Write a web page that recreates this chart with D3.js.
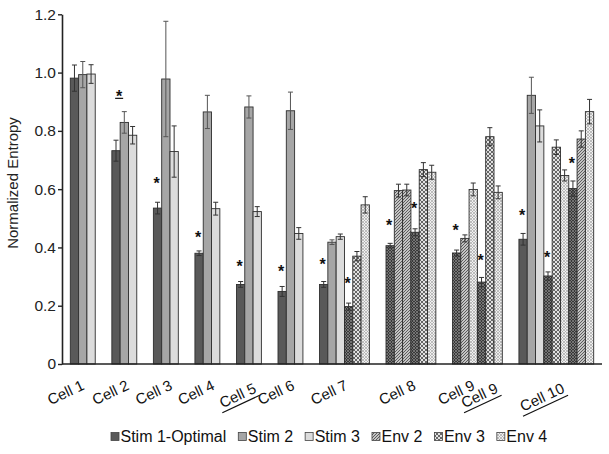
<!DOCTYPE html>
<html>
<head>
<meta charset="utf-8">
<script src="https://cdn.jsdelivr.net/npm/d3@7"></script>
<style>
  body { margin: 0; background: #fff; }
  svg { display: block; font-family: "Liberation Sans", Arial, sans-serif; }
</style>
</head>
<body>
<svg id="chart" width="609" height="454"></svg>
<script>
// legend series (Env 1 = optimal-environment bars, not in the legend)
const legendSeries = ["Stim 1-Optimal", "Stim 2", "Stim 3", "Env 2", "Env 3", "Env 4"];

// first slot of every cluster along the x axis
const groupSlots = [0, 5, 10, 15, 20, 25, 30, 38, 46, 54];

const groupSeries = [
  ["Stim 1-Optimal", "Stim 2", "Stim 3"],
  ["Stim 1-Optimal", "Stim 2", "Stim 3"],
  ["Stim 1-Optimal", "Stim 2", "Stim 3"],
  ["Stim 1-Optimal", "Stim 2", "Stim 3"],
  ["Stim 1-Optimal", "Stim 2", "Stim 3"],
  ["Stim 1-Optimal", "Stim 2", "Stim 3"],
  ["Stim 1-Optimal", "Stim 2", "Stim 3", "Env 1", "Env 3", "Env 4"],
  ["Env 1", "Env 2", "Env 2", "Env 1", "Env 3", "Env 4"],
  ["Env 1", "Env 2", "Env 4", "Env 1", "Env 3", "Env 4"],
  ["Stim 1-Optimal", "Stim 2", "Stim 3", "Env 1", "Env 3", "Env 4", "Env 1", "Env 2", "Env 4"]
];

const groupValues = [
  [0.981, 0.993, 0.995],
  [0.732, 0.829, 0.785],
  [0.535, 0.978, 0.729],
  [0.380, 0.865, 0.533],
  [0.273, 0.882, 0.523],
  [0.249, 0.869, 0.448],
  [0.273, 0.418, 0.437, 0.197, 0.370, 0.546],
  [0.406, 0.595, 0.597, 0.452, 0.667, 0.658],
  [0.381, 0.431, 0.599, 0.281, 0.780, 0.589],
  [0.428, 0.922, 0.817, 0.302, 0.744, 0.647, 0.602, 0.772, 0.866]
];

const groupErrors = [
  [0.045, 0.045, 0.032],
  [0.036, 0.037, 0.030],
  [0.020, 0.198, 0.088],
  [0.008, 0.057, 0.022],
  [0.010, 0.038, 0.017],
  [0.017, 0.064, 0.020],
  [0.010, 0.008, 0.009, 0.012, 0.016, 0.028],
  [0.008, 0.022, 0.020, 0.012, 0.024, 0.024],
  [0.010, 0.012, 0.022, 0.016, 0.031, 0.022],
  [0.020, 0.062, 0.055, 0.014, 0.025, 0.019, 0.026, 0.028, 0.042]
];

// significance marks: [group, bar, value, underlined]
const starMarks = [
  [1, 0.5, 0.927, true], [2, 0, 0.628], [3, 0, 0.446], [4, 0, 0.345], [5, 0, 0.328],
  [6, 0, 0.351], [6, 3, 0.286], [7, 0, 0.486], [7, 3, 0.545],
  [8, 0, 0.468], [8, 3, 0.366], [9, 0, 0.519], [9, 3, 0.377], [9, 6, 0.700]
];

const tickLabels = ["Cell 1", "Cell 2", "Cell 3", "Cell 4", "Cell 5", "Cell 6",
  "Cell 7", "Cell 8", "Cell 9", "Cell 9", "Cell 10"];
const tickSlots = [1.8, 7.2, 12.4, 17.5, 22.5, 27.1, 33.5, 41.7, 48.8, 51.6, 59.6];
const tickUnderlined = [false, false, false, false, true, false, false, false, false, true, true];

const yTicks = [0, 0.2, 0.4, 0.6, 0.8, 1.0, 1.2];

const svg = d3.select("#chart");

const x = d3.scaleLinear().domain([-1, 64]).range([62, 602]);
const y = d3.scaleLinear().domain([0, 1.2]).range([364, 14.3]);
const bw = x(1) - x(0);

// fills and patterns
const defs = svg.append("defs");
function pattern(id, size, bg, draw) {
  const p = defs.append("pattern")
    .attr("id", id)
    .attr("patternUnits", "userSpaceOnUse")
    .attr("width", size)
    .attr("height", size);
  p.append("rect").attr("width", size).attr("height", size).attr("fill", bg);
  draw(p);
}
pattern("env1", 3, "#383838", (p) => {
  p.append("path").attr("d", "M0,0L3,3M3,0L0,3").attr("stroke", "#8a8a8a").attr("stroke-width", 0.7);
});
pattern("env2", 3, "#c4c4c4", (p) => {
  p.append("path").attr("d", "M-1,1L1,-1M0,3L3,0M2,4L4,2").attr("stroke", "#505050").attr("stroke-width", 0.9);
});
pattern("env3", 4, "#e2e2e2", (p) => {
  p.append("path").attr("d", "M0,0L4,4M4,0L0,4").attr("stroke", "#666").attr("stroke-width", 1);
});
pattern("env4", 3, "#efefef", (p) => {
  p.append("path").attr("d", "M0,0L3,3M3,0L0,3").attr("stroke", "#a8a8a8").attr("stroke-width", 0.7);
});

const fills = {
  "Stim 1-Optimal": "#595959",
  "Stim 2": "#a6a6a6",
  "Stim 3": "#dcdcdc",
  "Env 1": "url(#env1)",
  "Env 2": "url(#env2)",
  "Env 3": "url(#env3)",
  "Env 4": "url(#env4)"
};

// flatten the bars
const bars = [];
groupSlots.forEach((start, g) => {
  groupSeries[g].forEach((s, i) => {
    bars.push({ slot: start + i, series: s, value: groupValues[g][i], err: groupErrors[g][i] });
  });
});

const gBars = svg.append("g");
gBars.selectAll("rect")
  .data(bars)
  .join("rect")
  .attr("x", (d) => x(d.slot))
  .attr("y", (d) => y(d.value))
  .attr("width", bw)
  .attr("height", (d) => y(0) - y(d.value))
  .attr("fill", (d) => fills[d.series])
  .attr("stroke", "#2e2e2e")
  .attr("stroke-width", 0.9);

// error bars
const gErr = svg.append("g").attr("stroke-width", 1);
bars.forEach((d) => {
  const cx = x(d.slot + 0.5);
  const col = d.series === "Stim 2" ? "#555" : "#333";
  const y1 = y(d.value + d.err), y2 = y(d.value - d.err);
  gErr.append("line").attr("stroke", col).attr("x1", cx).attr("x2", cx).attr("y1", y1).attr("y2", y2);
  gErr.append("line").attr("stroke", col).attr("x1", cx - 2.5).attr("x2", cx + 2.5).attr("y1", y1).attr("y2", y1);
  gErr.append("line").attr("stroke", col).attr("x1", cx - 2.5).attr("x2", cx + 2.5).attr("y1", y2).attr("y2", y2);
});

// asterisks
const gStar = svg.append("g");
starMarks.forEach(([g, b, v, u]) => {
  const cx = x(groupSlots[g] + b + 0.5) - 1;
  gStar.append("text")
    .attr("x", cx)
    .attr("y", y(v) + 8.5)
    .attr("text-anchor", "middle")
    .attr("font-size", 16)
    .attr("font-weight", "bold")
    .attr("fill", "#111")
    .text("*");
  if (u) {
    gStar.append("line")
      .attr("x1", cx - 4).attr("x2", cx + 4)
      .attr("y1", y(v) + 4.5).attr("y2", y(v) + 4.5)
      .attr("stroke", "#111").attr("stroke-width", 1.2);
  }
});

// y axis
const yAxis = svg.append("g")
  .attr("transform", `translate(${x(-1)},0)`)
  .call(d3.axisLeft(y)
    .tickValues(yTicks)
    .tickSize(4)
    .tickSizeOuter(0)
    .tickPadding(2)
    .tickFormat((d) => (d === 0 ? "0" : d3.format(".1f")(d))));
yAxis.select(".domain").attr("stroke", "#222").attr("stroke-width", 1.6);
yAxis.selectAll(".tick line").attr("stroke", "#222").attr("stroke-width", 1.4);
yAxis.selectAll(".tick text")
  .attr("font-size", 15.5)
  .attr("fill", "#222")
  .attr("font-family", "Liberation Sans, Arial, sans-serif");

svg.append("text")
  .attr("transform", `translate(18,183) rotate(-90)`)
  .attr("text-anchor", "middle")
  .attr("font-size", 15)
  .attr("fill", "#222")
  .text("Normalized Entropy");

// baseline
svg.append("line")
  .attr("x1", x(-1)).attr("x2", x(64))
  .attr("y1", y(0)).attr("y2", y(0))
  .attr("stroke", "#222").attr("stroke-width", 1.6);

// x labels, rotated
const gx = svg.append("g");
tickLabels.forEach((lab, i) => {
  const dy = tickUnderlined[i] ? 3 : 0;
  const g = gx.append("g")
    .attr("transform", `translate(${x(tickSlots[i])},${y(0) + 25 + dy}) rotate(-25)`);
  const t = g.append("text")
    .attr("text-anchor", "end")
    .attr("font-size", 15)
    .attr("fill", "#111")
    .text(lab);
  if (tickUnderlined[i]) {
    const w = t.node().getComputedTextLength();
    g.append("line")
      .attr("x1", -w - 2).attr("x2", 1)
      .attr("y1", 4).attr("y2", 4)
      .attr("stroke", "#111").attr("stroke-width", 1.2);
  }
});

// legend
const gLeg = svg.append("g").attr("transform", "translate(111,432)");
let lx = 0;
legendSeries.forEach((s) => {
  gLeg.append("rect")
    .attr("x", lx).attr("y", 0.5)
    .attr("width", 8).attr("height", 8)
    .attr("fill", fills[s])
    .attr("stroke", "#444").attr("stroke-width", 0.8);
  const t = gLeg.append("text")
    .attr("x", lx + 9.5)
    .attr("y", 9.5)
    .attr("font-size", 16)
    .attr("fill", "#111")
    .text(s);
  lx += 9.5 + t.node().getComputedTextLength() + 12;
});
</script>
</body>
</html>
